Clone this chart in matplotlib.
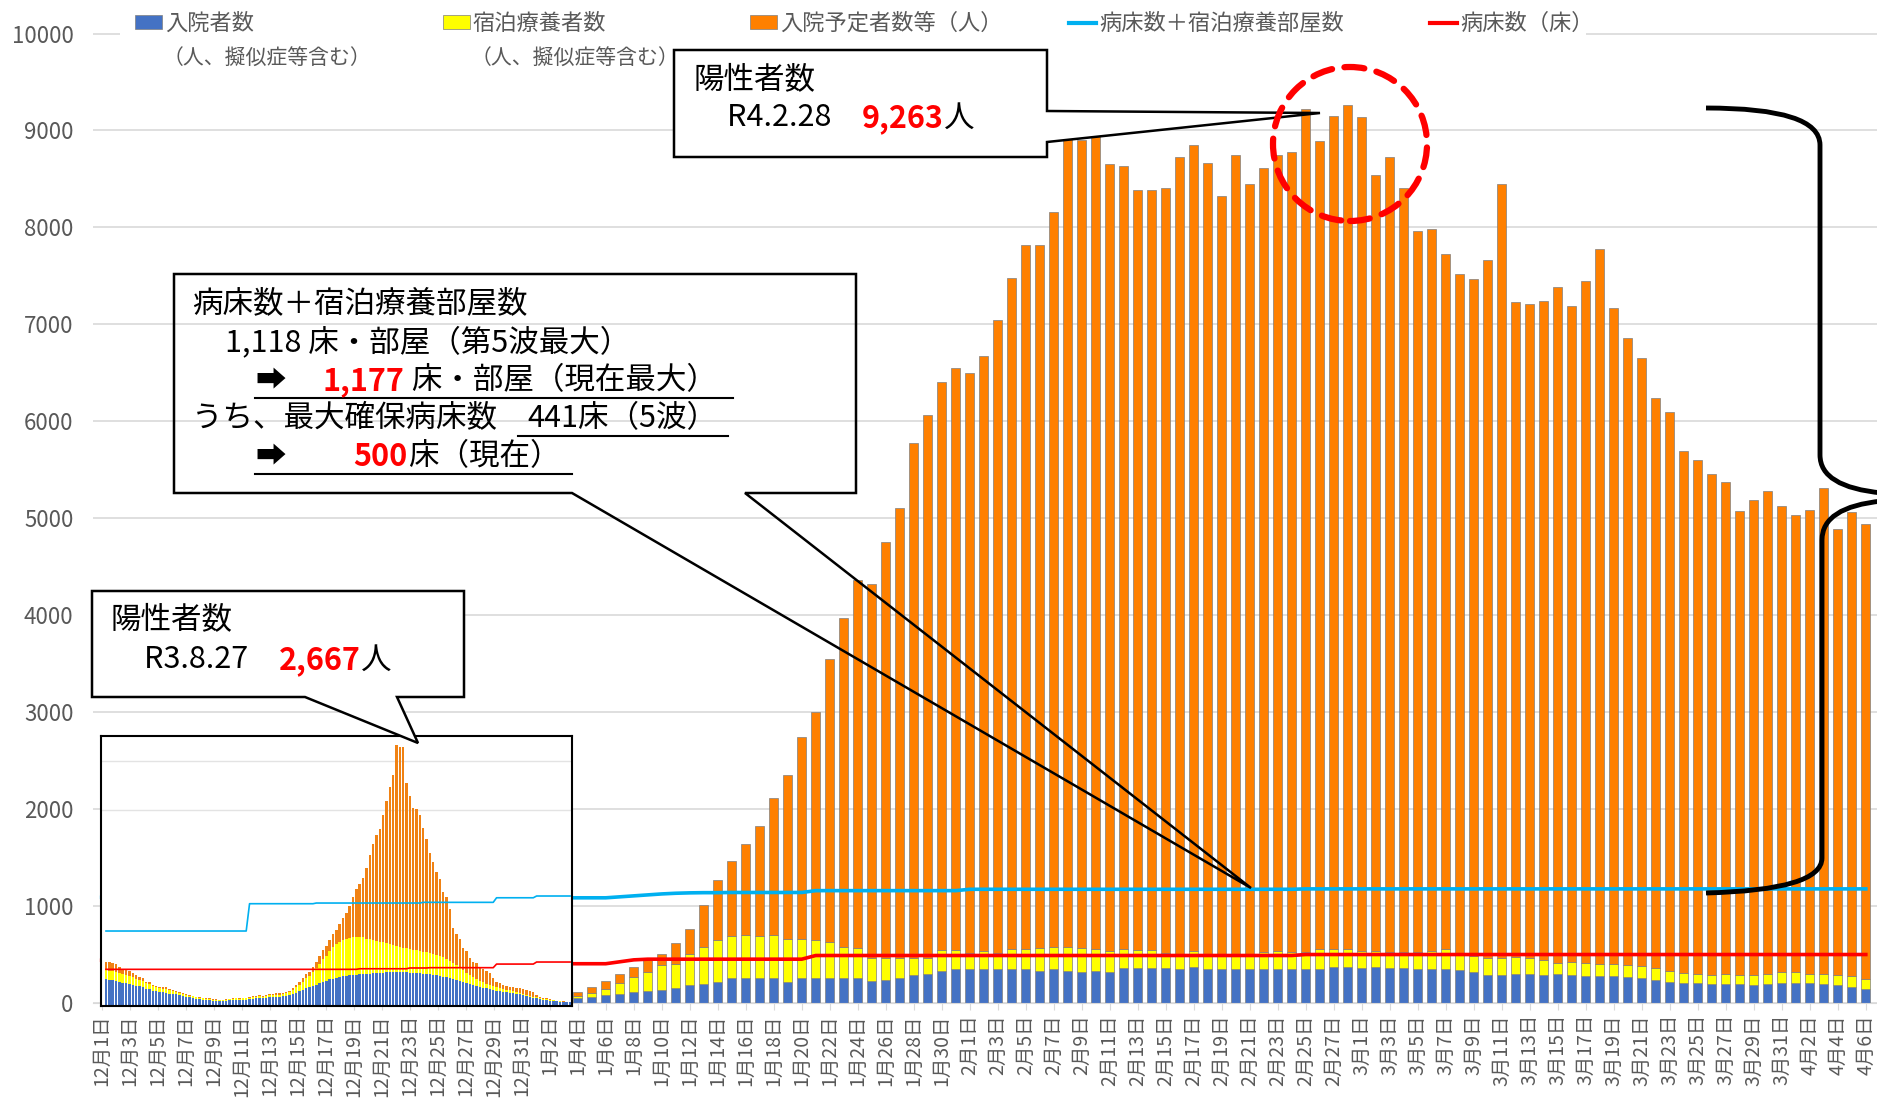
import matplotlib
matplotlib.use("Agg")
import matplotlib.pyplot as plt
from matplotlib.patches import Polygon, Rectangle, Ellipse, PathPatch
from matplotlib.path import Path
from matplotlib.lines import Line2D
import numpy as np
import pandas as pd

plt.rcParams['font.family'] = ['Noto Sans CJK JP', 'DejaVu Sans']

W, H = 1877, 1106

BLUE = '#4472C4'
YELLOW = '#FFFF00'
ORANGE = '#FF8000'
CYAN = '#00B0F0'
RED = '#FF0000'
GRAY = '#595959'

# ---------------- main chart data (6th wave) ----------------
first_day = "2021-12-01"
last_day = "2022-04-06"
first_bar_day = "2022-01-04"

# 入院者数 (Jan 4 .. Apr 6)
hospitalized = [
    48, 59, 83, 97, 111, 128, 135, 152, 187, 201, 221, 263, 263, 263, 263, 221, 263, 263, 263, 263,
    263, 225, 242, 263, 284, 298, 332, 353,
    353, 353, 353, 353, 353, 332, 353, 332, 318, 332, 318, 360, 360, 360, 360, 353, 374, 353, 353, 353,
    353, 353, 353, 353, 353, 353, 370, 370,
    363, 370, 363, 363, 353, 353, 353, 343, 318, 291, 291, 301, 301, 291, 294, 284, 277, 277, 277, 266,
    260, 242, 221, 208, 208, 201, 194, 194, 187, 194, 208,
    208, 208, 201, 187, 170, 145,
]
# 宿泊療養者数
hotel = [
    21, 41, 62, 111, 155, 190, 259, 249, 318, 373, 430, 429, 443, 429, 436, 443, 401, 391, 367, 311,
    308, 242, 225, 201, 180, 166, 211, 190,
    166, 183, 166, 208, 208, 235, 221, 242, 249, 229, 218, 201, 183, 183, 159, 138, 166, 138, 138, 138,
    138, 173, 187, 173, 173, 201, 191, 191,
    177, 170, 163, 163, 173, 187, 201, 148, 166, 173, 173, 170, 163, 148, 114, 138, 135, 124, 124, 128,
    117, 118, 111, 103, 90, 90, 104, 97, 104, 107, 110,
    110, 93, 100, 97, 107, 104,
]
# 入院予定者数等
waiting = [
    42, 70, 80, 90, 108, 149, 108, 215, 260, 436, 615, 768, 936, 1135, 1414, 1690, 2078, 2347, 2918, 3399,
    3790, 3857, 4290, 4644, 5317, 5598, 5867, 6008,
    5984, 6137, 6531, 6922, 7254, 7248, 7586, 8389, 8334, 8427, 8118, 8069, 7840, 7840, 7888, 8237, 8312, 8176,
    7830, 8259, 7953, 8090, 8206, 8254, 8700, 8336, 8593, 8702,
    8597, 7997, 8200, 7884, 7435, 7448, 7170, 7027, 6983, 7202, 7980, 6755, 6745, 6801, 6980, 6770, 7037, 7381,
    6767, 6462, 6273, 5885, 5762, 5379, 5299, 5169, 5076, 4784, 4894, 4983, 4805,
    4719, 4785, 5008, 4605, 4785, 4689,
]
# 病床数＋宿泊療養部屋数 / 病床数 (Dec 1 .. Apr 6)
beds_rooms = ([1090] * 31 + [1085] * 6 + [1095, 1105, 1115, 1125, 1132, 1136, 1138, 1138]
              + [1140] * 6 + [1159] * 11 + [1173] * 24 + [1177] * 41)
beds = [441] * 31 + [405] * 6 + [425, 445] + [452] * 12 + [490] * 35 + [500] * 41

# ---------------- inset data (5th wave) ----------------
inset_hospitalized = [
    263, 258, 255, 250, 240, 230, 225, 220, 210, 200, 190, 180, 165, 160, 145, 140, 135, 130, 128, 118,
    112, 108, 100, 90, 82, 78, 72, 66, 60, 56, 52, 50, 46, 44, 40, 40, 44, 48, 50, 55,
    52, 56, 56, 62, 66, 70, 72, 70, 75, 78, 80, 84, 84, 88, 95, 100, 112, 128, 140, 155,
    170, 180, 195, 210, 225, 240, 250, 262, 272, 280, 288, 295, 300, 305, 308, 312, 315, 318, 320, 322,
    325, 328, 330, 332, 334, 336, 338, 342, 340, 338, 335, 332, 330, 328, 325, 322, 320, 316, 312, 308,
    300, 292, 285, 276, 265, 255, 245, 235, 225, 215, 205, 195, 186, 178, 170, 160, 152, 145, 140, 135,
    130, 125, 120, 115, 108, 100, 92, 84, 76, 68, 62, 56, 50, 46, 42, 38, 34, 32, 30, 28,
]
inset_hotel = [
    95, 95, 92, 90, 88, 85, 82, 80, 76, 72, 68, 64, 56, 54, 46, 43, 41, 39, 38, 33,
    32, 30, 28, 24, 20, 18, 16, 14, 13, 12, 11, 11, 10, 9, 8, 8, 9, 10, 11, 12,
    11, 12, 12, 14, 16, 17, 18, 17, 18, 20, 21, 23, 23, 25, 28, 32, 40, 52, 68, 85,
    105, 120, 140, 170, 200, 230, 255, 290, 320, 345, 360, 370, 375, 380, 385, 388, 385, 380, 360, 350,
    345, 330, 320, 310, 300, 290, 275, 262, 255, 250, 245, 240, 235, 232, 228, 225, 222, 218, 215, 210,
    205, 200, 190, 180, 170, 155, 140, 120, 100, 90, 80, 70, 62, 56, 50, 45, 40, 36, 32, 28,
    26, 24, 22, 20, 18, 16, 14, 12, 10, 10, 8, 8, 7, 6, 5, 4, 4, 3, 3, 3,
]
inset_waiting = [
    86, 84, 80, 77, 65, 54, 52, 49, 39, 36, 33, 29, 18, 18, 14, 12, 12, 12, 15, 9,
    10, 9, 9, 6, 7, 7, 8, 5, 6, 7, 5, 7, 6, 5, 3, 3, 5, 7, 7, 8,
    5, 7, 7, 9, 10, 9, 9, 9, 10, 11, 12, 13, 13, 13, 14, 15, 19, 25, 31, 33,
    40, 42, 51, 64, 78, 94, 100, 115, 136, 144, 179, 224, 265, 330, 418, 486, 541, 601, 722, 866,
    980, 1086, 1155, 1307, 1458, 1613, 1746, 2063, 2055, 2062, 1694, 1572, 1459, 1447, 1396, 1265, 1161, 1022, 936, 843,
    784, 670, 636, 529, 351, 318, 289, 226, 232, 174, 159, 162, 145, 132, 129, 120, 82, 51, 50, 42,
    39, 39, 39, 36, 45, 45, 48, 51, 44, 25, 15, 11, 11, 6, 4, 2, 6, 3, 1, 3,
]
inset_beds_rooms = [759] * 43 + [1039] * 20 + [1046] * 32 + [1053] * 22 + [1100] * 12 + [1118] * 11
inset_beds = [366] * 76 + [372] * 15 + [380] * 6 + [383] * 20 + [420] * 12 + [441] * 11

# ---------------- figure ----------------
fig = plt.figure(figsize=(W / 100, H / 100), dpi=100)


def fpt(x, y):
    return x / W, 1 - y / H


# main axes: plot area from x=93px, y-axis 0 at 1003px, 10000 at 33.5px
ax = fig.add_axes([93 / W, (H - 1003) / H, (W - 93) / W, 1003 / H])
ax.set_ylim(0, 1003 / 0.09695)
ax.set_xlim(-0.62, 126.8)

days = pd.date_range(first_day, last_day)
offset = (pd.Timestamp(first_bar_day) - pd.Timestamp(first_day)).days
xb = np.arange(offset, offset + len(hospitalized))
hosp = np.array(hospitalized)
htl = np.array(hotel)
wait = np.array(waiting)

bw = 0.62
ax.bar(xb, hosp, bw, color=BLUE, edgecolor='#7f7f7f', linewidth=0.5, zorder=2)
ax.bar(xb, htl, bw, bottom=hosp, color=YELLOW, edgecolor='#7f7f7f', linewidth=0.5, zorder=2)
ax.bar(xb, wait, bw, bottom=hosp + htl, color=ORANGE, edgecolor='#7f7f7f', linewidth=0.5, zorder=2)

xl = np.arange(len(days))
ax.plot(xl, beds_rooms, color=CYAN, lw=2.6, zorder=3)
ax.plot(xl, beds, color=RED, lw=2.6, zorder=3)

ax.set_yticks(range(0, 10001, 1000))
ax.yaxis.grid(True, color='#D9D9D9', lw=1.2)
ax.set_axisbelow(True)
ax.tick_params(axis='y', length=0, pad=14, labelsize=16, labelcolor=GRAY)

tick_pos = list(range(0, len(days), 2))
tick_lab = [f"{days[i].month}月{days[i].day}日" for i in tick_pos]
ax.set_xticks(tick_pos)
ax.set_xticklabels(tick_lab, rotation=90, fontsize=14, color=GRAY)
ax.tick_params(axis='x', length=5, color='#D9D9D9', pad=3)
for s in ['top', 'right', 'left']:
    ax.spines[s].set_visible(False)
ax.spines['bottom'].set_color('#D9D9D9')

# ---------------- inset (5th wave) ----------------
ia = fig.add_axes([101 / W, (H - 1006) / H, (572 - 101) / W, (1006 - 736) / H], zorder=3)
ia.set_facecolor('white')
k = np.arange(len(inset_hospitalized))
ih = np.array(inset_hospitalized)
iy = np.array(inset_hotel)
iw = np.array(inset_waiting)
ia.bar(k, ih, 0.72, color=BLUE, linewidth=0)
ia.bar(k, iy, 0.72, bottom=ih, color=YELLOW, linewidth=0)
ia.bar(k, iw, 0.72, bottom=ih + iy, color='#F08214', linewidth=0)
ia.plot(k, inset_beds_rooms, color=CYAN, lw=1.2)
ia.plot(k, inset_beds, color=RED, lw=1.2)
for g in (2000, 2500):
    ia.axhline(g, color='#E3E3E3', lw=1, zorder=0)
ia.set_xlim(-1.5, len(k) - 0.4)
ia.set_ylim(-10, 2759)
ia.set_xticks([])
ia.set_yticks([])
for s in ia.spines.values():
    s.set_color('black')
    s.set_linewidth(1.5)

# ---------------- legend (top) ----------------
fig.patches.append(Rectangle(fpt(120, 42), (1586 - 120) / W, 40 / H, transform=fig.transFigure,
                             facecolor='white', edgecolor='none', zorder=4))
leg_items = [
    (135, 'patch', BLUE, '入院者数', '（人、擬似症等含む）'),
    (443, 'patch', YELLOW, '宿泊療養者数', '（人、擬似症等含む）'),
    (750, 'patch', ORANGE, '入院予定者数等（人）', None),
    (1069, 'line', CYAN, '病床数＋宿泊療養部屋数', None),
    (1430, 'line', RED, '病床数（床）', None),
]
for x0, kind, col, lab1, lab2 in leg_items:
    if kind == 'patch':
        fig.patches.append(Rectangle(fpt(x0, 29), 27 / W, 14 / H, transform=fig.transFigure,
                                     facecolor=col, edgecolor='#7f7f7f', lw=0.5, zorder=5))
    else:
        fig.lines.append(Line2D([x0 / W, (x0 + 27) / W], [1 - 23 / H, 1 - 23 / H],
                                transform=fig.transFigure, color=col, lw=3, zorder=5))
    fig.text((x0 + 30) / W, 1 - 23 / H, lab1, fontsize=16, color=GRAY, va='center', ha='left', zorder=5)
    if lab2:
        fig.text((x0 + 28) / W, 1 - 59 / H, lab2, fontsize=15, color=GRAY, va='center', ha='left', zorder=5)

# ---------------- callouts ----------------
def callout(points, fill):
    pts = [fpt(x, y) for x, y in points]
    fig.patches.append(Polygon(pts, closed=True, transform=fig.transFigure, facecolor=fill,
                               edgecolor='black', lw=1.8, zorder=6))


renderer = fig.canvas.get_renderer()


def put_line(x, y, pieces, size=22):
    spans = []
    for text, color, bold in pieces:
        t = fig.text(x / W, 1 - y / H, text, fontsize=size, color=color,
                     fontweight='bold' if bold else 'normal', va='center', ha='left', zorder=7)
        bb = t.get_window_extent(renderer=renderer)
        spans.append((x, x + bb.width))
        x += bb.width
    return spans


def underline(x0, x1, y):
    fig.lines.append(Line2D([x0 / W, x1 / W], [1 - y / H, 1 - y / H], transform=fig.transFigure,
                            color='black', lw=1.5, zorder=7))


# box A: peak of 6th wave
callout([(674, 50), (1047, 50), (1047, 111), (1320, 113), (1047, 142), (1047, 157), (674, 157)], 'white')
put_line(694, 80, [('陽性者数', 'black', False)])
put_line(727, 118, [('R4.2.28　', 'black', False), ('9,263', RED, True), ('人', 'black', False)])

# box B: beds
callout([(174, 274), (856, 274), (856, 493), (745, 493), (1251, 888), (572, 493), (174, 493)], 'none')
put_line(192, 304, [('病床数＋宿泊療養部屋数', 'black', False)])
put_line(225, 342, [('1,118 床・部屋（第5波最大）', 'black', False)])
sp = put_line(255, 381, [('➡', 'black', True), ('　 ', 'black', False), ('1,177', RED, True),
                         (' 床・部屋（現在最大）', 'black', False)])
underline(255, sp[-1][1] + 16, 398)
sp = put_line(192, 419, [('うち、最大確保病床数　', 'black', False), ('441床（5波）', 'black', False)])
underline(sp[1][0] - 10, sp[1][1] + 10, 436)
sp = put_line(255, 457, [('➡', 'black', True), ('　　 ', 'black', False), ('500', RED, True),
                         ('床（現在）', 'black', False)])
underline(255, sp[-1][1] + 12, 474)

# box C: peak of 5th wave
callout([(92, 591), (464, 591), (464, 697), (397, 697), (418, 743), (305, 697), (92, 697)], 'white')
put_line(111, 620, [('陽性者数', 'black', False)])
put_line(144, 660, [('R3.8.27　', 'black', False), ('2,667', RED, True), ('人', 'black', False)])

# dashed circle around the peak
cx, cy = fpt(1350, 144)
fig.patches.append(Ellipse((cx, cy), 2 * 77 / W, 2 * 77 / H, transform=fig.transFigure, fill=False,
                           edgecolor=RED, lw=4.5, linestyle=(0, (3.2, 2.0)), capstyle='round', zorder=6))

# brace on the right
brace = [
    (Path.MOVETO, (1706, 108)), (Path.CURVE3, (1820, 108)), (Path.CURVE3, (1820, 145)),
    (Path.LINETO, (1820, 455)), (Path.CURVE3, (1820, 487)), (Path.CURVE3, (1882, 493)),
    (Path.MOVETO, (1882, 501)), (Path.CURVE3, (1822, 507)), (Path.CURVE3, (1822, 540)),
    (Path.LINETO, (1822, 858)), (Path.CURVE3, (1822, 890)), (Path.CURVE3, (1706, 893)),
]
codes = [c for c, _ in brace]
verts = [fpt(x, y) for _, (x, y) in brace]
fig.patches.append(PathPatch(Path(verts, codes), transform=fig.transFigure, fill=False,
                             edgecolor='black', lw=3.5, zorder=6))

fig.savefig("out.png", dpi=100)
